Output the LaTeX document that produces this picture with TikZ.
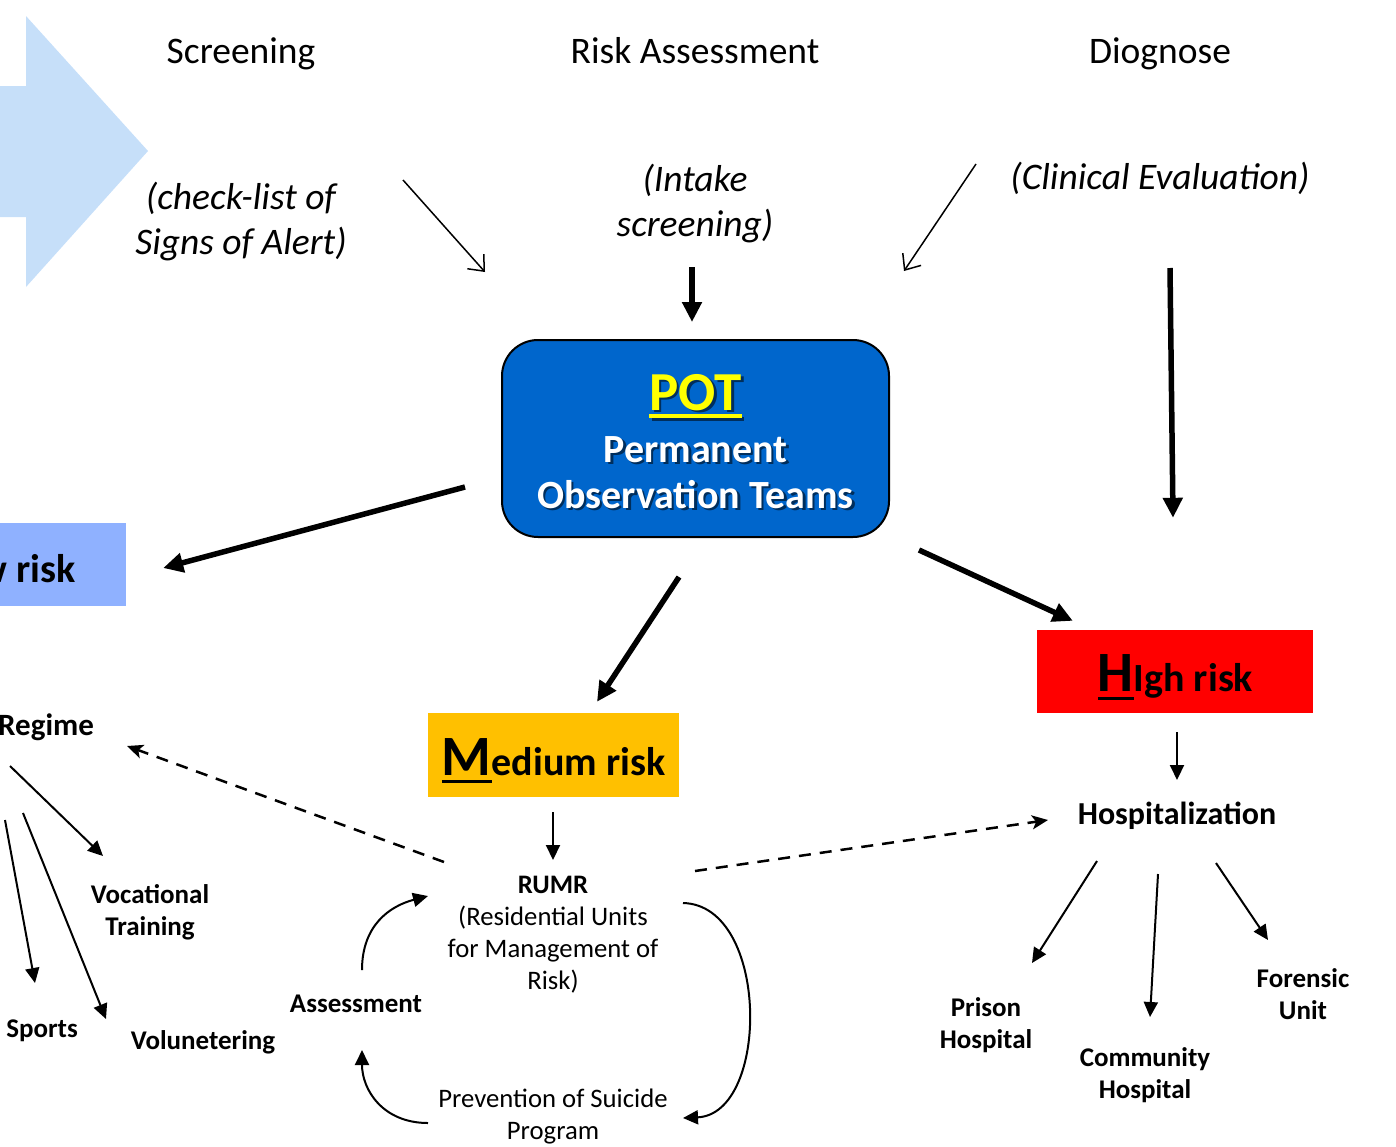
\documentclass[tikz,border=0pt]{standalone}
\usepackage{fontspec}
\setmainfont{Carlito}
\usetikzlibrary{arrows.meta,calc}

\definecolor{arrowblue}{RGB}{198,223,249}
\definecolor{potblue}{RGB}{0,102,204}
\definecolor{lowblue}{RGB}{143,177,255}
\definecolor{medyellow}{RGB}{255,192,0}
\definecolor{highred}{RGB}{255,0,0}
\definecolor{potyellow}{RGB}{255,255,0}

% underlined letter: #1 drop below baseline, #2 rule thickness, #3 text
\newcommand\ulchar[3]{\setbox0=\hbox{#3}\rlap{\rule[-#1]{\wd0}{#2}}\box0}

\tikzset{
  every node/.style={inner sep=0pt},
  stagetitle/.style={anchor=base, font=\fontsize{37.5}{44}\selectfont},
  stagenote/.style={anchor=base, align=center, font=\fontsize{37.5}{45}\selectfont\itshape},
  boldlbl/.style={anchor=base, align=center, font=\fontsize{27}{32}\selectfont\bfseries},
  plainlbl/.style={anchor=base, align=center, font=\fontsize{26.7}{32}\selectfont},
  risktext/.style={anchor=base, font=\fontsize{40}{44}\selectfont\bfseries},
  pottext/.style={anchor=base, font=\fontsize{40}{46}\selectfont\bfseries},
  bigarrow/.style={line width=5.5pt, -{Triangle[length=20pt,width=19pt]}},
  flow/.style={line width=2pt, -{Triangle[length=15pt,width=14pt]}},
  openarrow/.style={line width=1.5pt, -{Straight Barb[length=13pt,width=22pt,line width=1.5pt]}},
  dasharrow/.style={line width=2.5pt, dash pattern=on 12pt off 9pt, -{Stealth[length=16pt,width=14pt,inset=4pt]}},
}

\begin{document}
\begin{tikzpicture}[x=1pt,y=-1pt]
\useasboundingbox (0,0) rectangle (1396,1146);

% large pale process arrow on the left
\fill[arrowblue] (-10,86) -- (26,86) -- (26,16) -- (148,151) -- (26,287) -- (26,217) -- (-10,217) -- cycle;

% stage titles and their notes (base = last line's baseline)
\node[stagetitle] (scr) at (241,63) {Screening};
\node[stagetitle] (ras) at (695,63) {Risk Assessment};
\node[stagetitle] (dia) at (1160,63) {Diognose};
\node[stagenote] (chk) at (241,254) {(check-list of\\Signs of Alert)};
\node[stagenote] (intake) at (695,236) {(Intake\\screening)};
\node[stagenote] (clin) at (1160,189) {(Clinical Evaluation)};

% central team box
\node[draw=black, line width=2pt, fill=potblue, rounded corners=36pt,
      minimum width=387pt, minimum height=197pt] (pot) at (695.5,438.5) {};
\node[pottext, text=black, opacity=0.55, font=\fontsize{55}{60}\selectfont\bfseries] (potS) at (698,412.5)
  {\ulchar{8pt}{4pt}{POT}};
\node[pottext, text=potyellow, font=\fontsize{55}{60}\selectfont\bfseries] (potT) at (695.5,410)
  {\ulchar{8pt}{4pt}{POT}};
\node[pottext, text=black, opacity=0.55] (permS) at (698,464.5) {Permanent};
\node[pottext, text=white] (perm) at (695.5,462) {Permanent};
\node[pottext, text=black, opacity=0.55] (obsS) at (698,510.5) {Observation Teams};
\node[pottext, text=white] (obs) at (695.5,508) {Observation Teams};

% risk level boxes
\node[fill=lowblue, minimum width=232pt, minimum height=83pt] (low) at (10,564.5) {};
\node[risktext] (lowT) at (8,582) {Low risk};
\node[fill=medyellow, minimum width=251pt, minimum height=84pt] (med) at (553.5,755) {};
\node[risktext] (medT) at (553.5,775) {\ulchar{8pt}{3.5pt}{\fontsize{57}{60}\selectfont M}edium risk};
\node[fill=highred, minimum width=276pt, minimum height=83pt] (high) at (1175,671.5) {};
\node[risktext] (highT) at (1175.5,691) {\ulchar{9pt}{3.5pt}{\fontsize{57}{60}\selectfont H}Igh risk};

% low risk branch
\node[boldlbl, anchor=base west, font=\fontsize{31}{34}\selectfont\bfseries] (regime) at (-2,735) {Regime};
\node[boldlbl] (voc) at (150,935) {Vocational\\Training};
\node[boldlbl] (sports) at (42,1037) {Sports};
\node[boldlbl] (volun) at (203,1049) {Volunetering};

% medium risk branch
\node[plainlbl] (rumr) at (553,989) {\textbf{RUMR}\\(Residential Units\\for Management of\\Risk)};
\node[plainlbl] (prev) at (553,1139) {Prevention of Suicide\\Program};
\node[boldlbl] (assess) at (356,1012) {Assessment};

% high risk branch
\node[boldlbl, font=\fontsize{32}{36}\selectfont\bfseries] (hosp) at (1177,824) {Hospitalization};
\node[boldlbl] (prison) at (986,1048) {Prison\\Hospital};
\node[boldlbl] (comm) at (1145,1098) {Community\\Hospital};
\node[boldlbl] (foren) at (1303,1019) {Forensic\\Unit};

% inputs into the team
\draw[openarrow] ($(chk.base)+(162,-74)$) -- ($(pot.north west)+(-16,-67)$);
\draw[openarrow] ($(clin.base)+(-184,-25)$) -- ($(pot.north east)+(14,-68)$);
\draw[bigarrow] ($(intake.base)+(-3,31)$) -- ($(pot.north)+(-3.5,-17)$);
\draw[bigarrow] ($(clin.base)+(10,79)$) -- ($(high.north)+(-2,-112)$);

% team to risk levels
\draw[bigarrow] ($(pot.west)+(-36,48.5)$) -- ($(low.east)+(37,3.5)$);
\draw[bigarrow] ($(pot.south)+(-16.5,39)$) -- ($(med.north)+(43.5,-11)$);
\draw[bigarrow] ($(pot.south east)+(29,12)$) -- ($(high.north west)+(36,-9)$);

% risk levels to services
\draw[flow] ($(high.south)+(2,19)$) -- ($(hosp.base)+(0,-44)$);
\draw[flow] ($(med.south)+(-0.5,15)$) -- ($(rumr.base)+(0,-129)$);
\draw[dasharrow] ($(rumr.base)+(-109,-127)$) -- ($(regime.base west)+(129,11)$);
\draw[dasharrow] ($(rumr.base)+(142,-118)$) -- ($(hosp.base)+(-129,-4)$);

% regime activities
\draw[flow] ($(regime.base west)+(12,31)$) -- ($(voc.base)+(-47,-79)$);
\draw[flow] ($(regime.base west)+(7,85)$) -- ($(sports.base)+(-7,-54)$);
\draw[flow] ($(regime.base west)+(25,78)$) -- ($(volun.base)+(-97,-30)$);

% hospital types
\draw[flow] ($(hosp.base)+(-80,37)$) -- ($(prison.base)+(46,-85)$);
\draw[flow] ($(hosp.base)+(-19,50)$) -- ($(comm.base)+(5,-81)$);
\draw[flow] ($(hosp.base)+(39,39)$) -- ($(foren.base)+(-35,-79)$);

% RUMR cycle
\draw[flow] ($(assess.base)+(6,-42)$) .. controls +(0,-45) and +(-38,10) .. ($(rumr.base)+(-125,-93)$);
\draw[flow] ($(rumr.base)+(130,-86)$) .. controls +(87,2) and +(87,-4) .. ($(prev.base)+(130,-21)$);
\draw[flow] ($(prev.base)+(-125,-16)$) .. controls +(-45,0) and +(0,40) .. ($(assess.base)+(6,38)$);
\end{tikzpicture}
\end{document}
